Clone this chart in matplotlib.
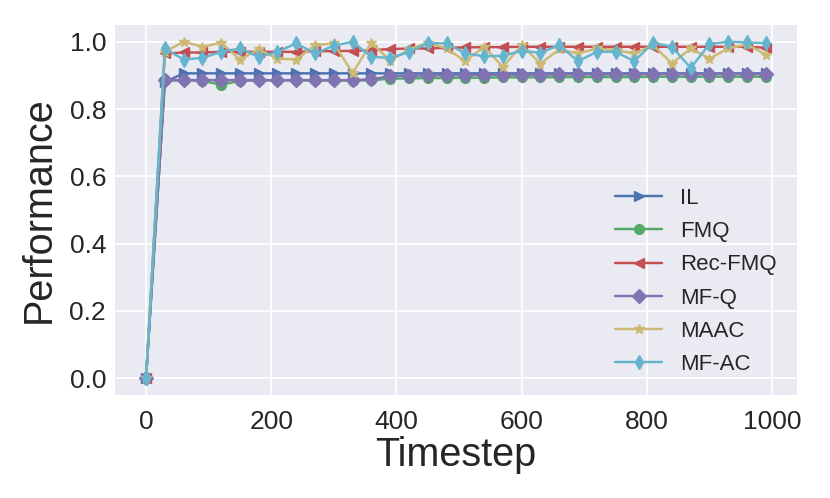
import matplotlib
matplotlib.use("Agg")
import matplotlib.pyplot as plt
import numpy as np

timesteps = list(range(0, 1000, 30))

il = [0.0, 0.88] + [0.906] * 32
fmq = [0.0, 0.885, 0.885, 0.884, 0.872, 0.884, 0.885, 0.885, 0.885, 0.885, 0.885,
       0.884, 0.886, 0.890, 0.891, 0.892, 0.892, 0.893, 0.893, 0.894, 0.894, 0.894,
       0.895, 0.895, 0.895, 0.895, 0.895, 0.896, 0.896, 0.896, 0.896, 0.896, 0.896, 0.896]
rec_fmq = [0.0, 0.965, 0.968, 0.968, 0.970, 0.970, 0.970, 0.970, 0.970, 0.972, 0.972,
           0.973, 0.975, 0.978, 0.980, 0.980, 0.982, 0.983, 0.984, 0.984, 0.985, 0.985,
           0.985, 0.985, 0.985, 0.985, 0.985, 0.985, 0.985, 0.985, 0.985, 0.985, 0.985, 0.982]
mf_q = [0.0, 0.886, 0.886, 0.886, 0.886, 0.886, 0.886, 0.886, 0.886, 0.886, 0.886,
        0.886, 0.888, 0.898, 0.899, 0.900, 0.900, 0.901, 0.901, 0.902, 0.902, 0.902,
        0.903, 0.903, 0.903, 0.903, 0.903, 0.904, 0.904, 0.904, 0.904, 0.904, 0.904, 0.904]
maac = [0.0, 0.970, 1.000, 0.985, 0.997, 0.947, 0.977, 0.950, 0.947, 0.990, 0.995,
        0.907, 0.997, 0.944, 0.977, 0.997, 0.980, 0.942, 0.985, 0.925, 0.990, 0.935,
        0.977, 0.965, 0.980, 0.975, 0.965, 0.990, 0.935, 0.980, 0.950, 0.980, 0.992, 0.962]
mf_ac = [0.0, 0.980, 0.947, 0.952, 0.970, 0.980, 0.955, 0.970, 0.995, 0.965, 0.988,
         1.000, 0.955, 0.952, 0.969, 0.996, 0.995, 0.965, 0.957, 0.958, 0.973, 0.967,
         0.990, 0.942, 0.970, 0.970, 0.942, 0.997, 0.985, 0.922, 0.993, 1.000, 0.998, 0.996]

series_names = ["IL", "FMQ", "Rec-FMQ", "MF-Q", "MAAC", "MF-AC"]
series_values = [il, fmq, rec_fmq, mf_q, maac, mf_ac]
markers = [">", "o", "<", "D", "*", "d"]
colors = ["#4C72B0", "#55A868", "#C44E52", "#8172B2", "#CCB974", "#64B5CD"]

plt.rcParams['font.family'] = ['Liberation Sans', 'DejaVu Sans']

fig = plt.figure(figsize=(8.3, 4.98), dpi=100)
ax = fig.add_axes([0.1386, 0.2068, 0.8214, 0.7432])
ax.set_facecolor("#EAEAF2")
for s in ax.spines.values():
    s.set_visible(False)
ax.grid(True, color="white", linewidth=1.3)
ax.set_axisbelow(True)

for name, vals, m, c in zip(series_names, series_values, markers, colors):
    ax.plot(timesteps, vals, marker=m, color=c, label=name, linewidth=1.75,
            markersize=7, solid_capstyle="round")

ax.set_ylim(-0.05, 1.05)
ax.set_xticks([0, 200, 400, 600, 800, 1000])
ax.set_yticks([0.0, 0.2, 0.4, 0.6, 0.8, 1.0])
ax.set_yticklabels(["0.0", "0.2", "0.4", "0.6", "0.8", "1.0"])
ax.tick_params(axis="both", length=0, labelsize=19, colors="#262626")
ax.tick_params(axis="x", pad=10.5)
ax.tick_params(axis="y", pad=6.5)
ax.set_xlabel("Timestep", fontsize=28.5, color="#262626", labelpad=1.5)
ax.set_ylabel("Performance", fontsize=28.5, color="#262626", labelpad=8.5)

leg = ax.legend(loc="lower right", fontsize=16, frameon=False, handlelength=2.15,
                labelspacing=0.55, numpoints=1)
for t in leg.get_texts():
    t.set_color("#262626")

fig.savefig("out.png", dpi=100, facecolor="white")
